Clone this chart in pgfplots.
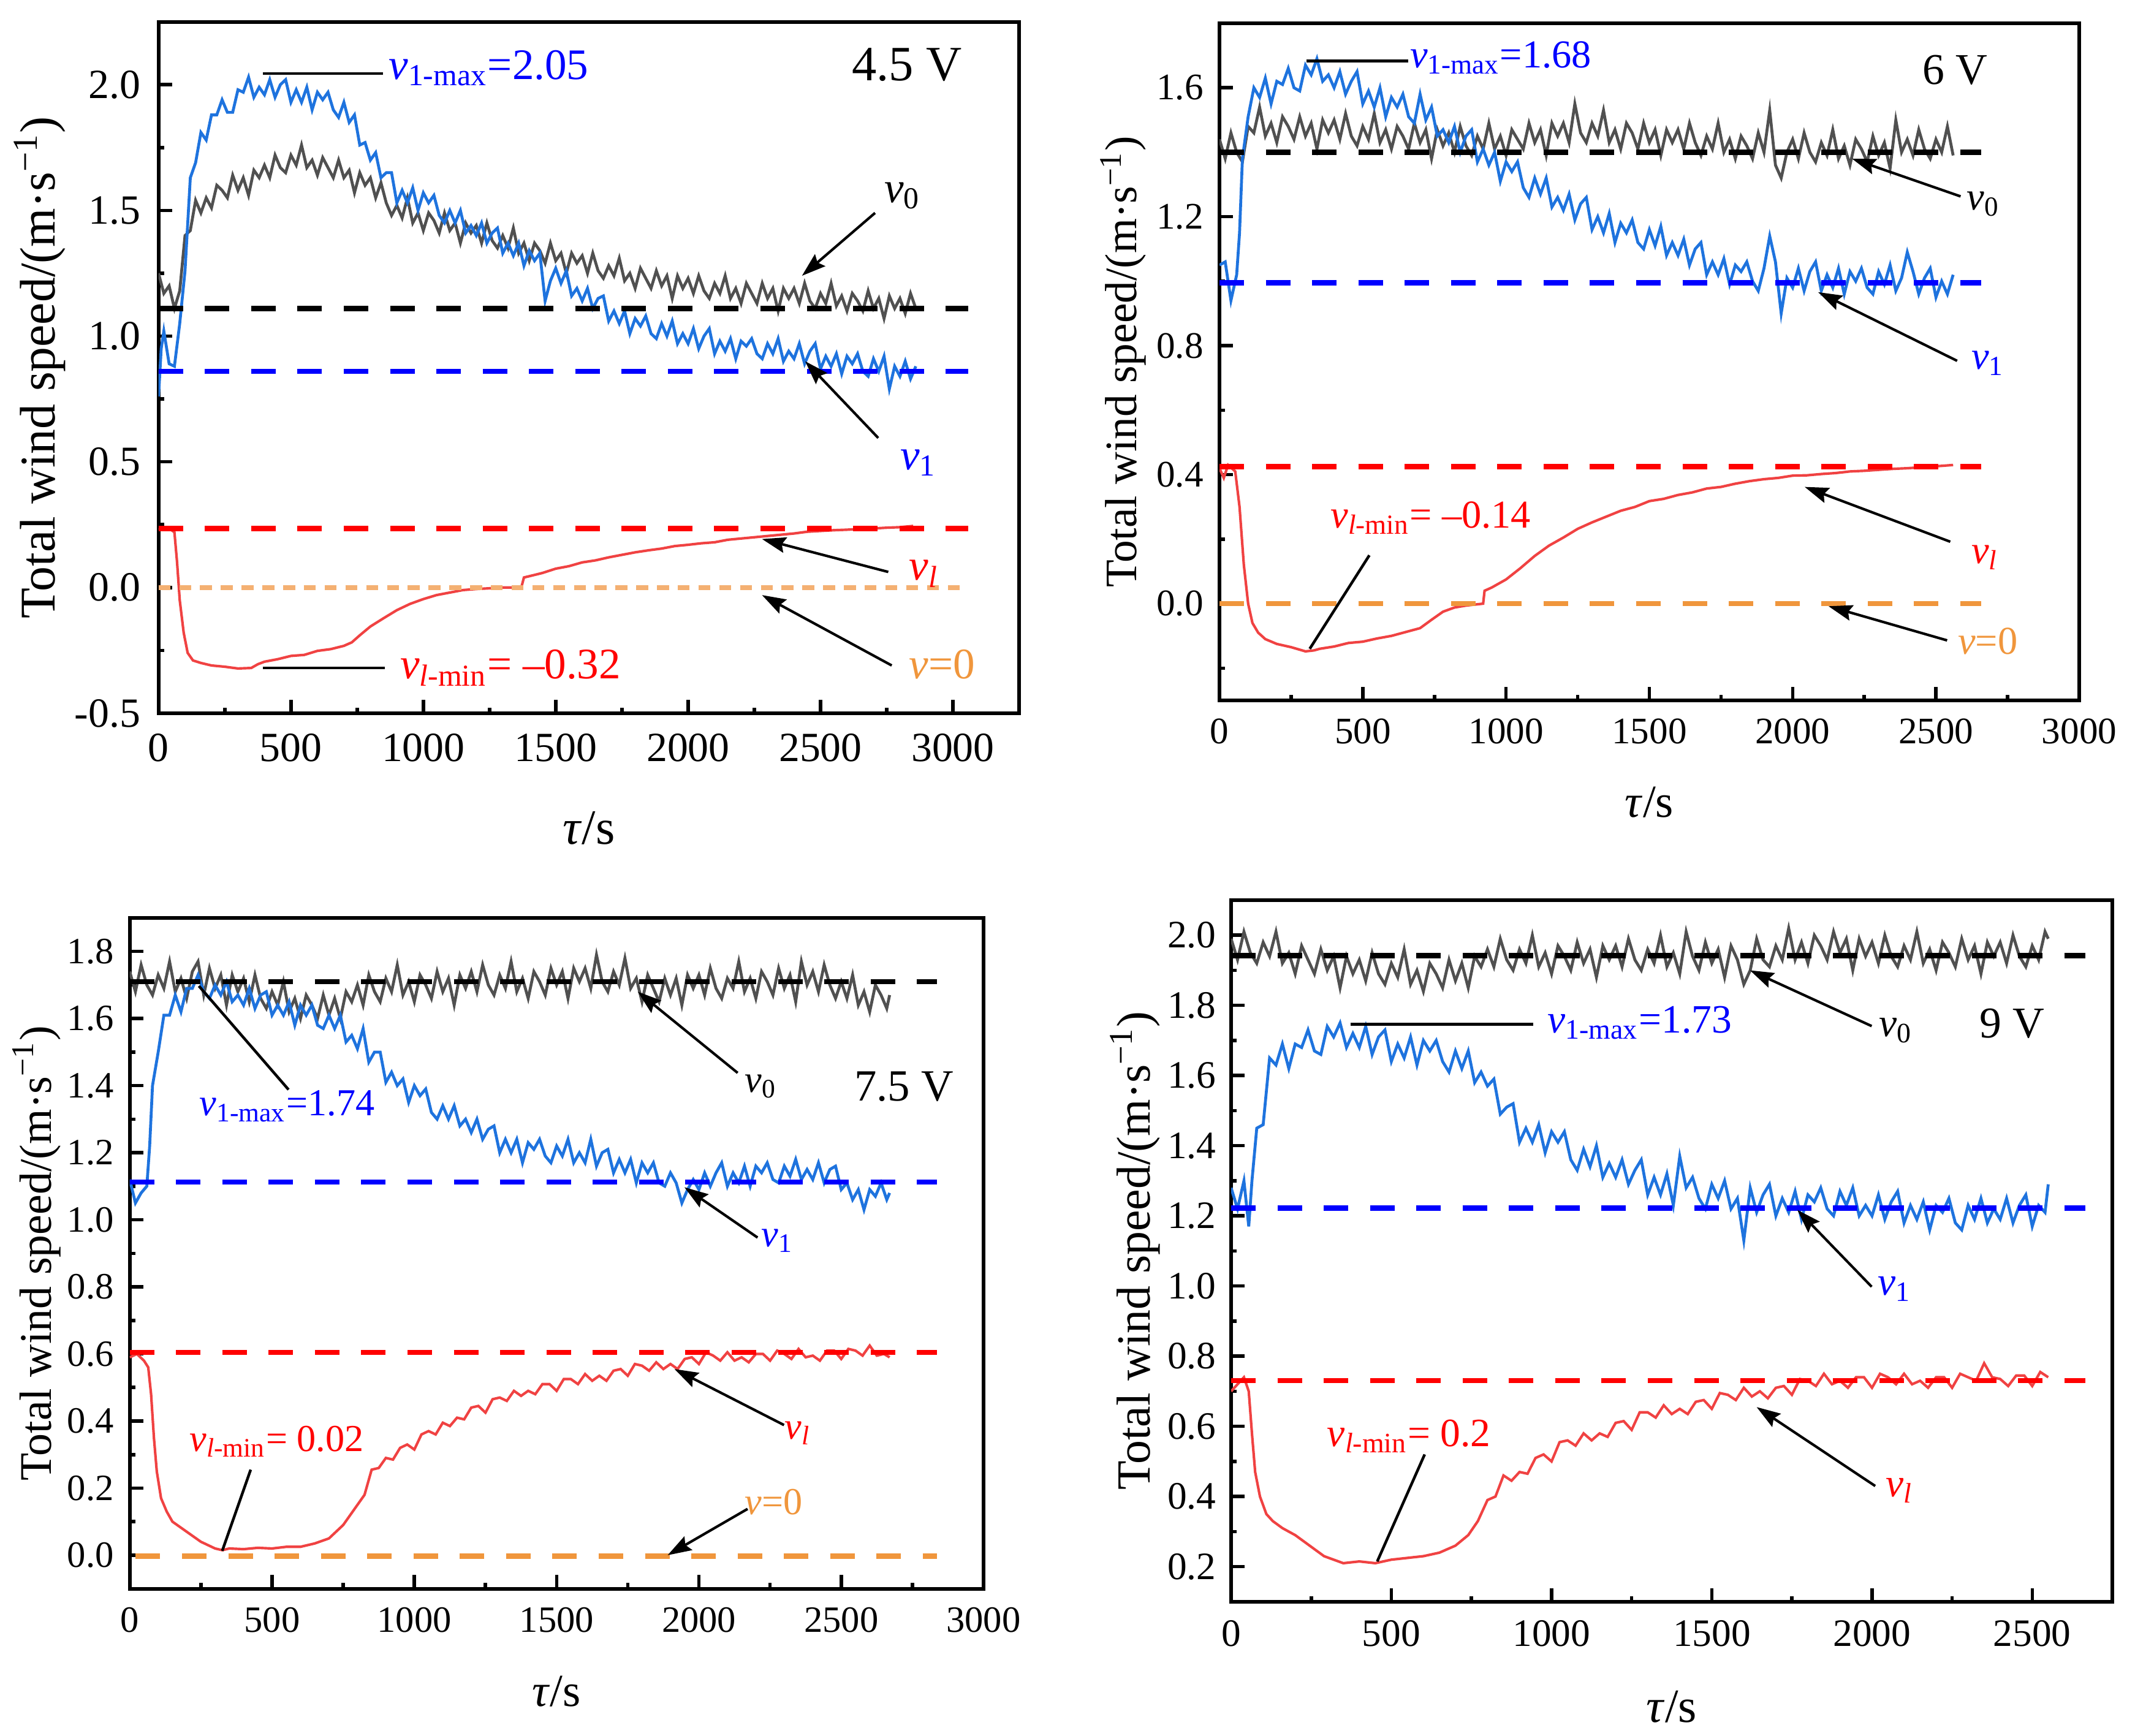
\documentclass[border=0pt]{standalone}
\usepackage{fontspec}
\setmainfont{Liberation Serif}
\usepackage{pgfplots}
\pgfplotsset{compat=1.18}
\usetikzlibrary{arrows.meta}
\definecolor{cgray}{RGB}{80,80,80}
\definecolor{cblue}{RGB}{30,115,222}
\definecolor{cred}{RGB}{240,66,66}
\definecolor{dblue}{RGB}{0,0,255}
\definecolor{dred}{RGB}{255,0,0}
\definecolor{lorange}{RGB}{244,176,114}
\definecolor{corange}{RGB}{240,150,60}
\pgfplotsset{
 base/.style={scale only axis, anchor=south west, clip mode=individual,
  axis line style={line width=1.05pt}, tick align=inside, tick pos=left,
  major tick length=4pt, minor tick length=1.7pt,
  every tick/.style={black, line width=1pt},
  /pgf/number format/assume math mode=true,
  /pgf/number format/1000 sep={},
  yticklabel style={/pgf/number format/fixed,/pgf/number format/fixed zerofill,/pgf/number format/precision=1},
  xlabel={\textit{τ}/s}, ylabel={Total wind speed/(m·s\textsuperscript{−1})}},
 gr/.style={color=cgray, line width=0.85pt, no markers},
 bl/.style={color=cblue, line width=0.85pt, no markers},
 rd/.style={color=cred, line width=0.75pt, no markers},
 dsh/.style={line width=1.5pt, dash pattern=on 7.2pt off 6.4pt, no markers},
 dot/.style={line width=1.4pt, dash pattern=on 3.5pt off 2.6pt, no markers},
}
\tikzset{arr/.style={-{Stealth[length=7pt,width=4.6pt,inset=1pt]}, line width=0.75pt, black},
 ln/.style={line width=0.8pt, black}}
\begin{document}
\begin{tikzpicture}
\useasboundingbox (0,0) rectangle (627.12pt,509.94pt);
% ---------------- Panel 1: 4.5 V
\begin{axis}[base, at={(46.57pt,300.42pt)}, width=252.77pt, height=203.09pt,
 xmin=0, xmax=3250, ymin=-0.5, ymax=2.25,
 xtick={0,500,1000,1500,2000,2500,3000}, minor xtick={250,750,1250,1750,2250,2750},
 ytick={-0.5,0,0.5,1.0,1.5,2.0}, minor ytick={-0.25,0.25,0.75,1.25,1.75},
 tick label style={font=\fontsize{12.2}{13}\selectfont},
 xticklabel shift=2.5pt, yticklabel shift=1.8pt,
 xlabel style={font=\fontsize{14.5}{15}\selectfont, at={(axis description cs:0.5,-0.166)}, anchor=center},
 ylabel style={font=\fontsize{14.7}{15}\selectfont, at={(axis description cs:-0.138,0.5)}, anchor=center}]
\addplot[gr] coordinates {(0,1.25)(20,1.17)(40,1.20)(60,1.11)(80,1.18)(100,1.40)(120,1.42)(140,1.54)(160,1.49)(180,1.55)(200,1.51)(220,1.60)(240,1.58)(260,1.55)(280,1.64)(300,1.58)(320,1.63)(340,1.56)(360,1.66)(380,1.63)(400,1.68)(420,1.63)(440,1.72)(460,1.67)(480,1.65)(500,1.72)(520,1.68)(540,1.76)(560,1.67)(580,1.70)(600,1.64)(620,1.71)(640,1.67)(660,1.63)(680,1.70)(700,1.63)(720,1.66)(740,1.57)(760,1.65)(780,1.60)(800,1.63)(820,1.55)(840,1.61)(860,1.53)(880,1.48)(900,1.52)(920,1.47)(940,1.55)(960,1.45)(980,1.49)(1000,1.42)(1020,1.49)(1040,1.46)(1060,1.41)(1080,1.49)(1100,1.42)(1120,1.45)(1140,1.37)(1160,1.45)(1180,1.41)(1200,1.44)(1220,1.37)(1240,1.45)(1260,1.38)(1280,1.35)(1300,1.40)(1320,1.35)(1340,1.43)(1360,1.33)(1380,1.37)(1400,1.30)(1420,1.37)(1440,1.34)(1460,1.29)(1480,1.37)(1500,1.30)(1520,1.33)(1540,1.25)(1560,1.33)(1580,1.29)(1600,1.32)(1620,1.25)(1640,1.33)(1660,1.26)(1680,1.23)(1700,1.28)(1720,1.24)(1740,1.31)(1760,1.22)(1780,1.25)(1800,1.19)(1820,1.27)(1840,1.23)(1860,1.19)(1880,1.26)(1900,1.20)(1920,1.24)(1940,1.15)(1960,1.24)(1980,1.19)(2000,1.23)(2020,1.17)(2040,1.24)(2060,1.18)(2080,1.15)(2100,1.21)(2120,1.17)(2140,1.24)(2160,1.15)(2180,1.19)(2200,1.13)(2220,1.21)(2240,1.17)(2260,1.13)(2280,1.21)(2300,1.15)(2320,1.19)(2340,1.10)(2360,1.19)(2380,1.15)(2400,1.19)(2420,1.13)(2440,1.21)(2460,1.14)(2480,1.11)(2500,1.17)(2520,1.13)(2540,1.21)(2560,1.12)(2580,1.16)(2600,1.10)(2620,1.17)(2640,1.14)(2660,1.10)(2680,1.18)(2700,1.11)(2720,1.15)(2740,1.07)(2760,1.16)(2780,1.11)(2800,1.15)(2820,1.09)(2840,1.17)(2860,1.11)};
\addplot[bl] coordinates {(0,0.76)(10,0.95)(20,1.02)(40,0.89)(60,0.88)(80,1.05)(100,1.26)(120,1.63)(140,1.69)(160,1.81)(180,1.78)(200,1.88)(220,1.88)(240,1.94)(260,1.89)(280,1.89)(300,1.98)(320,1.97)(340,2.03)(360,1.95)(380,1.99)(400,1.96)(420,2.02)(440,1.95)(460,2.00)(480,2.02)(500,1.93)(520,1.98)(540,1.93)(560,1.99)(580,1.90)(600,1.97)(620,1.94)(640,1.97)(660,1.90)(680,1.87)(700,1.93)(720,1.85)(740,1.88)(760,1.76)(780,1.77)(800,1.70)(820,1.73)(840,1.63)(860,1.65)(880,1.65)(900,1.53)(920,1.58)(940,1.53)(960,1.59)(980,1.50)(1000,1.57)(1020,1.53)(1040,1.56)(1060,1.48)(1080,1.45)(1100,1.50)(1120,1.45)(1140,1.50)(1160,1.41)(1180,1.44)(1200,1.40)(1220,1.45)(1240,1.37)(1260,1.41)(1280,1.43)(1300,1.33)(1320,1.37)(1340,1.32)(1360,1.37)(1380,1.28)(1400,1.34)(1420,1.30)(1440,1.33)(1460,1.14)(1480,1.22)(1500,1.27)(1520,1.21)(1540,1.26)(1560,1.16)(1580,1.19)(1600,1.14)(1620,1.19)(1640,1.11)(1660,1.15)(1680,1.16)(1700,1.06)(1720,1.10)(1740,1.05)(1760,1.10)(1780,1.01)(1800,1.07)(1820,1.04)(1840,1.08)(1860,1.01)(1880,0.99)(1900,1.05)(1920,1.00)(1940,1.06)(1960,0.97)(1980,1.01)(2000,0.97)(2020,1.03)(2040,0.95)(2060,1.00)(2080,1.03)(2100,0.93)(2120,0.98)(2140,0.94)(2160,0.99)(2180,0.91)(2200,0.98)(2220,0.96)(2240,0.99)(2260,0.93)(2280,0.91)(2300,0.97)(2320,0.93)(2340,0.99)(2360,0.90)(2380,0.94)(2400,0.91)(2420,0.97)(2440,0.89)(2460,0.94)(2480,0.97)(2500,0.87)(2520,0.92)(2540,0.88)(2560,0.93)(2580,0.85)(2600,0.92)(2620,0.89)(2640,0.93)(2660,0.86)(2680,0.84)(2700,0.91)(2720,0.86)(2740,0.92)(2760,0.79)(2780,0.88)(2800,0.84)(2820,0.90)(2840,0.83)(2860,0.88)};
\addplot[rd] coordinates {(0,0.235)(20,0.23)(40,0.235)(60,0.22)(70,0.10)(80,-0.05)(95,-0.18)(110,-0.26)(130,-0.29)(160,-0.30)(200,-0.31)(250,-0.315)(300,-0.322)(350,-0.32)(375,-0.305)(400,-0.295)(450,-0.285)(500,-0.272)(550,-0.268)(600,-0.252)(650,-0.245)(700,-0.232)(730,-0.218)(760,-0.19)(800,-0.155)(850,-0.122)(900,-0.09)(950,-0.065)(1000,-0.046)(1050,-0.03)(1100,-0.02)(1150,-0.01)(1200,-0.006)(1250,-0.003)(1300,0.0)(1370,0.0)(1380,0.04)(1400,0.045)(1450,0.058)(1500,0.075)(1550,0.085)(1600,0.10)(1650,0.108)(1700,0.12)(1750,0.13)(1800,0.14)(1850,0.148)(1900,0.155)(1950,0.165)(2000,0.17)(2050,0.176)(2100,0.18)(2150,0.19)(2200,0.195)(2250,0.2)(2300,0.205)(2350,0.21)(2400,0.215)(2450,0.222)(2500,0.225)(2550,0.228)(2600,0.23)(2650,0.233)(2700,0.235)(2750,0.238)(2800,0.24)(2850,0.245)};
\addplot[dsh, black] coordinates {(0,1.11)(3058,1.11)};
\addplot[dsh, dblue] coordinates {(0,0.86)(3058,0.86)};
\addplot[dsh, dred] coordinates {(0,0.235)(3058,0.235)};
\addplot[dot, lorange] coordinates {(0,0)(3058,0)};
\draw[ln] (axis cs:394,2.044) -- (axis cs:847,2.044);
\node[anchor=base west, inner sep=0pt, dblue, font=\fontsize{12.8}{14}\selectfont] at (axis cs:867,2.022) {\textit{v}\textsubscript{1-max}=2.05};
\draw[ln] (axis cs:394,-0.32) -- (axis cs:854,-0.32);
\node[anchor=base west, inner sep=0pt, dred, font=\fontsize{12.8}{14}\selectfont] at (axis cs:910,-0.363) {\textit{v}\textsubscript{\textit{l}-min}= –0.32};
\node[font=\fontsize{14.5}{15}\selectfont] at (axis cs:2826,2.08) {4.5 V};
\draw[arr] (axis cs:2706,1.49) -- (axis cs:2430,1.24);
\node[anchor=base west, inner sep=0pt, font=\fontsize{12.8}{14}\selectfont] at (axis cs:2739,1.532) {\textit{v}\textsubscript{0}};
\draw[arr] (axis cs:2718,0.595) -- (axis cs:2442,0.90);
\node[anchor=base west, inner sep=0pt, dblue, font=\fontsize{12.8}{14}\selectfont] at (axis cs:2799,0.469) {\textit{v}\textsubscript{1}};
\draw[arr] (axis cs:2756,0.062) -- (axis cs:2279,0.193);
\node[anchor=base west, inner sep=0pt, dred, font=\fontsize{12.8}{14}\selectfont] at (axis cs:2832,0.029) {\textit{v}\textsubscript{\textit{l}}};
\draw[arr] (axis cs:2769,-0.31) -- (axis cs:2279,-0.03);
\node[anchor=base west, inner sep=0pt, corange, font=\fontsize{12.8}{14}\selectfont] at (axis cs:2832,-0.363) {\textit{v}=0};
\end{axis}
% ---------------- Panel 2: 6 V
\begin{axis}[base, at={(358.2pt,304.2pt)}, width=252.54pt, height=198.9pt,
 xmin=0, xmax=3000, ymin=-0.3, ymax=1.8,
 xtick={0,500,1000,1500,2000,2500,3000}, minor xtick={250,750,1250,1750,2250,2750},
 ytick={0,0.4,0.8,1.2,1.6}, minor ytick={-0.2,0.2,0.6,1.0,1.4},
 tick label style={font=\fontsize{11}{12}\selectfont},
 xticklabel shift=1.8pt, yticklabel shift=1.2pt,
 xlabel style={font=\fontsize{13.5}{14}\selectfont, at={(axis description cs:0.5,-0.150)}, anchor=center},
 ylabel style={font=\fontsize{13.2}{14}\selectfont, at={(axis description cs:-0.112,0.5)}, anchor=center}]
\addplot[gr] coordinates {(0,1.44)(20,1.38)(40,1.46)(60,1.40)(80,1.37)(100,1.48)(120,1.46)(140,1.54)(160,1.45)(180,1.49)(200,1.43)(220,1.51)(240,1.48)(260,1.44)(280,1.51)(300,1.45)(320,1.49)(340,1.41)(360,1.50)(380,1.46)(400,1.50)(420,1.44)(440,1.52)(460,1.45)(480,1.42)(500,1.48)(520,1.44)(540,1.52)(560,1.43)(580,1.47)(600,1.41)(620,1.48)(640,1.45)(660,1.41)(680,1.49)(700,1.43)(720,1.47)(740,1.38)(760,1.47)(780,1.42)(800,1.46)(820,1.40)(840,1.48)(860,1.42)(880,1.39)(900,1.45)(920,1.41)(940,1.49)(960,1.41)(980,1.45)(1000,1.39)(1020,1.47)(1040,1.44)(1060,1.41)(1080,1.49)(1100,1.43)(1120,1.47)(1140,1.39)(1160,1.49)(1180,1.45)(1200,1.49)(1220,1.43)(1240,1.55)(1260,1.46)(1280,1.43)(1300,1.49)(1320,1.45)(1340,1.53)(1360,1.43)(1380,1.47)(1400,1.41)(1420,1.49)(1440,1.46)(1460,1.41)(1480,1.49)(1500,1.43)(1520,1.47)(1540,1.39)(1560,1.47)(1580,1.43)(1600,1.47)(1620,1.41)(1640,1.49)(1660,1.43)(1680,1.39)(1700,1.45)(1720,1.41)(1740,1.49)(1760,1.40)(1780,1.44)(1800,1.38)(1820,1.45)(1840,1.42)(1860,1.38)(1880,1.46)(1900,1.40)(1920,1.53)(1940,1.36)(1960,1.32)(1980,1.40)(2000,1.44)(2020,1.38)(2040,1.46)(2060,1.40)(2080,1.37)(2100,1.43)(2120,1.39)(2140,1.47)(2160,1.38)(2180,1.42)(2200,1.36)(2220,1.44)(2240,1.41)(2260,1.37)(2280,1.45)(2300,1.39)(2320,1.43)(2340,1.35)(2360,1.50)(2380,1.40)(2400,1.44)(2420,1.39)(2440,1.47)(2460,1.41)(2480,1.38)(2500,1.44)(2520,1.40)(2540,1.48)(2560,1.39)};
\addplot[bl] coordinates {(0,1.05)(20,1.06)(40,0.94)(60,1.02)(70,1.15)(80,1.38)(100,1.51)(120,1.60)(140,1.57)(160,1.63)(180,1.55)(200,1.62)(220,1.61)(240,1.66)(260,1.60)(280,1.59)(300,1.67)(320,1.64)(340,1.69)(360,1.62)(380,1.64)(400,1.60)(420,1.65)(440,1.58)(460,1.62)(480,1.65)(500,1.55)(520,1.59)(540,1.54)(560,1.60)(580,1.51)(600,1.57)(620,1.54)(640,1.58)(660,1.51)(680,1.49)(700,1.58)(720,1.50)(740,1.54)(760,1.45)(780,1.47)(800,1.43)(820,1.48)(840,1.40)(860,1.45)(880,1.47)(900,1.37)(920,1.41)(940,1.36)(960,1.40)(980,1.31)(1000,1.37)(1020,1.34)(1040,1.37)(1060,1.29)(1080,1.26)(1100,1.32)(1120,1.27)(1140,1.32)(1160,1.23)(1180,1.26)(1200,1.22)(1220,1.27)(1240,1.19)(1260,1.24)(1280,1.26)(1300,1.16)(1320,1.20)(1340,1.15)(1360,1.21)(1380,1.12)(1400,1.18)(1420,1.15)(1440,1.19)(1460,1.12)(1480,1.10)(1500,1.16)(1520,1.11)(1540,1.17)(1560,1.08)(1580,1.12)(1600,1.08)(1620,1.13)(1640,1.05)(1660,1.10)(1680,1.12)(1700,1.02)(1720,1.06)(1740,1.02)(1760,1.07)(1780,0.99)(1800,1.05)(1820,1.03)(1840,1.06)(1860,1.00)(1880,0.97)(1900,1.04)(1920,1.14)(1940,1.06)(1960,0.90)(1980,1.01)(2000,0.98)(2020,1.04)(2040,0.97)(2060,1.03)(2080,1.06)(2100,0.97)(2120,1.02)(2140,0.98)(2160,1.04)(2180,0.96)(2200,1.03)(2220,1.00)(2240,1.04)(2260,0.98)(2280,0.96)(2300,1.03)(2320,0.99)(2340,1.05)(2360,0.97)(2380,1.01)(2400,1.09)(2420,1.03)(2440,0.96)(2460,1.01)(2480,1.04)(2500,0.95)(2520,1.00)(2540,0.96)(2560,1.02)};
\addplot[rd] coordinates {(0,0.42)(15,0.39)(30,0.43)(55,0.41)(70,0.30)(85,0.12)(100,0.0)(115,-0.06)(135,-0.09)(160,-0.11)(200,-0.125)(250,-0.135)(300,-0.148)(330,-0.145)(350,-0.14)(400,-0.133)(450,-0.122)(500,-0.118)(550,-0.108)(600,-0.10)(650,-0.088)(700,-0.076)(740,-0.05)(780,-0.025)(820,-0.012)(860,-0.006)(900,-0.002)(920,0.0)(925,0.04)(950,0.05)(1000,0.075)(1050,0.11)(1100,0.148)(1150,0.18)(1200,0.205)(1250,0.232)(1300,0.252)(1350,0.27)(1400,0.288)(1450,0.30)(1500,0.318)(1550,0.325)(1600,0.337)(1650,0.345)(1700,0.357)(1750,0.362)(1800,0.372)(1850,0.38)(1900,0.386)(1950,0.39)(2000,0.397)(2050,0.398)(2100,0.402)(2150,0.405)(2200,0.41)(2250,0.412)(2300,0.415)(2350,0.418)(2400,0.42)(2450,0.423)(2500,0.426)(2560,0.43)};
\addplot[dsh, black] coordinates {(0,1.40)(2657,1.40)};
\addplot[dsh, dblue] coordinates {(0,0.995)(2657,0.995)};
\addplot[dsh, dred] coordinates {(0,0.425)(2657,0.425)};
\addplot[dsh, corange] coordinates {(0,0)(2657,0)};
\draw[ln] (axis cs:303,1.683) -- (axis cs:658,1.683);
\node[anchor=base west, inner sep=0pt, dblue, font=\fontsize{11.6}{13}\selectfont] at (axis cs:663,1.663) {\textit{v}\textsubscript{1-max}=1.68};
\node[anchor=base west, inner sep=0pt, dred, font=\fontsize{11.6}{13}\selectfont] at (axis cs:386,0.235) {\textit{v}\textsubscript{\textit{l}-min}= –0.14};
\draw[ln] (axis cs:523,0.15) -- (axis cs:315,-0.14);
\node[font=\fontsize{12.9}{14}\selectfont] at (axis cs:2567,1.654) {6 V};
\draw[arr] (axis cs:2586,1.263) -- (axis cs:2207,1.38);
\node[anchor=base west, inner sep=0pt, font=\fontsize{11.6}{13}\selectfont] at (axis cs:2605,1.221) {\textit{v}\textsubscript{0}};
\draw[arr] (axis cs:2574,0.753) -- (axis cs:2089,0.966);
\node[anchor=base west, inner sep=0pt, dblue, font=\fontsize{11.6}{13}\selectfont] at (axis cs:2622,0.728) {\textit{v}\textsubscript{1}};
\draw[arr] (axis cs:2550,0.192) -- (axis cs:2042,0.362);
\node[anchor=base west, inner sep=0pt, dred, font=\fontsize{11.6}{13}\selectfont] at (axis cs:2622,0.124) {\textit{v}\textsubscript{\textit{l}}};
\draw[arr] (axis cs:2539,-0.114) -- (axis cs:2125,-0.008);
\node[anchor=base west, inner sep=0pt, corange, font=\fontsize{11.6}{13}\selectfont] at (axis cs:2575,-0.156) {\textit{v}=0};
\end{axis}
% ---------------- Panel 3: 7.5 V
\begin{axis}[base, at={(38.11pt,43.25pt)}, width=250.79pt, height=197.05pt,
 xmin=0, xmax=3000, ymin=-0.1, ymax=1.9,
 xtick={0,500,1000,1500,2000,2500,3000}, minor xtick={250,750,1250,1750,2250,2750},
 ytick={0,0.2,0.4,0.6,0.8,1.0,1.2,1.4,1.6,1.8}, minor ytick={0.1,0.3,0.5,0.7,0.9,1.1,1.3,1.5,1.7},
 tick label style={font=\fontsize{10.9}{12}\selectfont},
 xticklabel shift=2pt, yticklabel shift=1.2pt,
 xlabel style={font=\fontsize{13.5}{14}\selectfont, at={(axis description cs:0.5,-0.153)}, anchor=center},
 ylabel style={font=\fontsize{13.3}{14}\selectfont, at={(axis description cs:-0.109,0.5)}, anchor=center}]
\addplot[gr] coordinates {(0,1.74)(20,1.68)(40,1.76)(60,1.70)(80,1.67)(100,1.73)(120,1.69)(140,1.77)(160,1.68)(180,1.72)(200,1.66)(220,1.74)(240,1.77)(260,1.67)(280,1.75)(300,1.69)(320,1.73)(340,1.64)(360,1.73)(380,1.68)(400,1.72)(420,1.65)(440,1.73)(460,1.66)(480,1.63)(500,1.68)(520,1.64)(540,1.71)(560,1.62)(580,1.66)(600,1.60)(620,1.67)(640,1.64)(660,1.60)(680,1.67)(700,1.61)(720,1.66)(740,1.60)(760,1.68)(780,1.65)(800,1.70)(820,1.64)(840,1.73)(860,1.68)(880,1.65)(900,1.72)(920,1.68)(940,1.76)(960,1.67)(980,1.71)(1000,1.65)(1020,1.73)(1040,1.70)(1060,1.66)(1080,1.74)(1100,1.68)(1120,1.72)(1140,1.64)(1160,1.73)(1180,1.69)(1200,1.74)(1220,1.68)(1240,1.76)(1260,1.70)(1280,1.67)(1300,1.73)(1320,1.69)(1340,1.77)(1360,1.68)(1380,1.72)(1400,1.66)(1420,1.74)(1440,1.71)(1460,1.67)(1480,1.75)(1500,1.70)(1520,1.74)(1540,1.66)(1560,1.75)(1580,1.71)(1600,1.75)(1620,1.69)(1640,1.79)(1660,1.71)(1680,1.68)(1700,1.74)(1720,1.70)(1740,1.78)(1760,1.69)(1780,1.72)(1800,1.65)(1820,1.73)(1840,1.69)(1860,1.65)(1880,1.72)(1900,1.67)(1920,1.72)(1940,1.64)(1960,1.73)(1980,1.69)(2000,1.73)(2020,1.67)(2040,1.75)(2060,1.69)(2080,1.66)(2100,1.72)(2120,1.69)(2140,1.77)(2160,1.68)(2180,1.72)(2200,1.66)(2220,1.74)(2240,1.71)(2260,1.67)(2280,1.75)(2300,1.69)(2320,1.73)(2340,1.65)(2360,1.77)(2380,1.70)(2400,1.74)(2420,1.68)(2440,1.76)(2460,1.70)(2480,1.66)(2500,1.71)(2520,1.66)(2540,1.73)(2560,1.64)(2580,1.68)(2600,1.62)(2620,1.70)(2640,1.67)(2660,1.63)(2670,1.67)};
\addplot[bl] coordinates {(0,1.12)(20,1.05)(40,1.08)(60,1.10)(70,1.22)(80,1.40)(100,1.50)(120,1.61)(140,1.61)(160,1.67)(180,1.62)(200,1.69)(220,1.69)(240,1.73)(260,1.68)(280,1.66)(300,1.70)(320,1.67)(340,1.71)(360,1.65)(380,1.67)(400,1.64)(420,1.69)(440,1.63)(460,1.67)(480,1.68)(500,1.61)(520,1.64)(540,1.61)(560,1.65)(580,1.58)(600,1.64)(620,1.61)(640,1.64)(660,1.58)(680,1.57)(700,1.61)(720,1.57)(740,1.61)(760,1.53)(780,1.55)(800,1.51)(820,1.57)(840,1.47)(860,1.50)(880,1.50)(900,1.41)(920,1.44)(940,1.40)(960,1.42)(980,1.35)(1000,1.40)(1020,1.37)(1040,1.39)(1060,1.32)(1080,1.30)(1100,1.34)(1120,1.30)(1140,1.34)(1160,1.28)(1180,1.30)(1200,1.26)(1220,1.30)(1240,1.24)(1260,1.27)(1280,1.28)(1300,1.20)(1320,1.24)(1340,1.20)(1360,1.24)(1380,1.17)(1400,1.23)(1420,1.21)(1440,1.24)(1460,1.19)(1480,1.17)(1500,1.22)(1520,1.19)(1540,1.24)(1560,1.17)(1580,1.20)(1600,1.17)(1620,1.24)(1640,1.16)(1660,1.20)(1680,1.21)(1700,1.14)(1720,1.18)(1740,1.14)(1760,1.18)(1780,1.11)(1800,1.17)(1820,1.14)(1840,1.17)(1860,1.11)(1880,1.10)(1900,1.14)(1920,1.11)(1940,1.05)(1960,1.09)(1980,1.12)(2000,1.09)(2020,1.14)(2040,1.10)(2060,1.14)(2080,1.17)(2100,1.10)(2120,1.14)(2140,1.11)(2160,1.16)(2180,1.10)(2200,1.16)(2220,1.14)(2240,1.17)(2260,1.12)(2280,1.11)(2300,1.16)(2320,1.13)(2340,1.18)(2360,1.12)(2380,1.15)(2400,1.12)(2420,1.17)(2440,1.11)(2460,1.15)(2480,1.16)(2500,1.09)(2520,1.11)(2540,1.06)(2560,1.09)(2580,1.03)(2600,1.09)(2620,1.07)(2640,1.11)(2660,1.06)(2670,1.08)};
\addplot[rd] coordinates {(0,0.59)(25,0.60)(50,0.58)(65,0.56)(75,0.48)(85,0.35)(95,0.25)(110,0.17)(130,0.13)(150,0.10)(175,0.085)(200,0.07)(225,0.055)(250,0.04)(275,0.03)(300,0.02)(325,0.015)(350,0.02)(400,0.018)(450,0.022)(500,0.02)(550,0.025)(600,0.025)(650,0.035)(700,0.05)(725,0.07)(750,0.09)(775,0.12)(800,0.15)(825,0.18)(850,0.255)(875,0.26)(900,0.29)(925,0.285)(950,0.32)(975,0.33)(1000,0.315)(1025,0.36)(1050,0.37)(1075,0.36)(1100,0.395)(1125,0.385)(1150,0.41)(1175,0.405)(1200,0.44)(1225,0.445)(1250,0.425)(1275,0.465)(1300,0.47)(1325,0.46)(1350,0.49)(1375,0.475)(1400,0.49)(1425,0.48)(1450,0.51)(1475,0.51)(1500,0.49)(1525,0.525)(1550,0.525)(1575,0.51)(1600,0.54)(1625,0.52)(1650,0.535)(1675,0.52)(1700,0.55)(1725,0.555)(1750,0.535)(1775,0.57)(1800,0.565)(1825,0.55)(1850,0.575)(1875,0.555)(1900,0.57)(1925,0.555)(1950,0.585)(1975,0.59)(2000,0.57)(2025,0.605)(2050,0.595)(2075,0.58)(2100,0.605)(2125,0.58)(2150,0.59)(2175,0.575)(2200,0.60)(2225,0.60)(2250,0.58)(2275,0.61)(2300,0.60)(2325,0.585)(2350,0.615)(2375,0.59)(2400,0.595)(2425,0.58)(2450,0.61)(2475,0.61)(2500,0.585)(2525,0.615)(2550,0.61)(2575,0.595)(2600,0.625)(2625,0.595)(2650,0.60)(2670,0.59)};
\addplot[dsh, black] coordinates {(0,1.71)(2836,1.71)};
\addplot[dsh, dblue] coordinates {(0,1.113)(2836,1.113)};
\addplot[dsh, dred] coordinates {(0,0.605)(2836,0.605)};
\addplot[dsh, corange] coordinates {(21,-0.003)(2836,-0.003)};
\draw[ln] (axis cs:558,1.388) -- (axis cs:243,1.697);
\node[anchor=base west, inner sep=0pt, dblue, font=\fontsize{11.2}{12}\selectfont] at (axis cs:243,1.31) {\textit{v}\textsubscript{1-max}=1.74};
\node[anchor=base west, inner sep=0pt, dred, font=\fontsize{11.2}{12}\selectfont] at (axis cs:208,0.31) {\textit{v}\textsubscript{\textit{l}-min}= 0.02};
\draw[ln] (axis cs:425,0.255) -- (axis cs:325,0.013);
\node[font=\fontsize{13.1}{14}\selectfont] at (axis cs:2720,1.397) {7.5 V};
\draw[arr] (axis cs:2136,1.438) -- (axis cs:1785,1.68);
\node[anchor=base west, inner sep=0pt, font=\fontsize{11.2}{12}\selectfont] at (axis cs:2159,1.38) {\textit{v}\textsubscript{0}};
\draw[arr] (axis cs:2206,0.947) -- (axis cs:1949,1.097);
\node[anchor=base west, inner sep=0pt, dblue, font=\fontsize{11.2}{12}\selectfont] at (axis cs:2217,0.92) {\textit{v}\textsubscript{1}};
\draw[arr] (axis cs:2299,0.388) -- (axis cs:1914,0.555);
\node[anchor=base west, inner sep=0pt, dred, font=\fontsize{11.2}{12}\selectfont] at (axis cs:2299,0.347) {\textit{v}\textsubscript{\textit{l}}};
\draw[arr] (axis cs:2171,0.138) -- (axis cs:1890,0.0);
\node[anchor=base west, inner sep=0pt, corange, font=\fontsize{11.2}{12}\selectfont] at (axis cs:2159,0.122) {\textit{v}=0};
\end{axis}
% ---------------- Panel 4: 9 V
\begin{axis}[base, at={(361.62pt,39.42pt)}, width=258.84pt, height=206.1pt,
 xmin=0, xmax=2750, ymin=0.1, ymax=2.1,
 xtick={0,500,1000,1500,2000,2500}, minor xtick={250,750,1250,1750,2250},
 ytick={0.2,0.4,0.6,0.8,1.0,1.2,1.4,1.6,1.8,2.0}, minor ytick={0.3,0.5,0.7,0.9,1.1,1.3,1.5,1.7,1.9},
 tick label style={font=\fontsize{11.4}{12}\selectfont},
 xticklabel shift=2pt, yticklabel shift=0.9pt,
 xlabel style={font=\fontsize{14}{15}\selectfont, at={(axis description cs:0.5,-0.150)}, anchor=center},
 ylabel style={font=\fontsize{14}{15}\selectfont, at={(axis description cs:-0.109,0.5)}, anchor=center}]
\addplot[gr] coordinates {(0,1.99)(20,1.93)(40,2.01)(60,1.95)(80,1.92)(100,1.98)(120,1.94)(140,2.01)(160,1.92)(180,1.95)(200,1.89)(220,1.97)(240,1.93)(260,1.89)(280,1.96)(300,1.90)(320,1.94)(340,1.85)(360,1.94)(380,1.89)(400,1.93)(420,1.87)(440,1.95)(460,1.89)(480,1.86)(500,1.92)(520,1.88)(540,1.96)(560,1.86)(580,1.90)(600,1.84)(620,1.92)(640,1.89)(660,1.85)(680,1.93)(700,1.87)(720,1.92)(740,1.85)(760,1.94)(780,1.91)(800,1.96)(820,1.91)(840,1.99)(860,1.93)(880,1.90)(900,1.96)(920,1.92)(940,2.00)(960,1.91)(980,1.95)(1000,1.89)(1020,1.97)(1040,1.94)(1060,1.90)(1080,1.98)(1100,1.92)(1120,1.96)(1140,1.88)(1160,1.97)(1180,1.93)(1200,1.97)(1220,1.91)(1240,1.99)(1260,1.93)(1280,1.90)(1300,1.96)(1320,1.92)(1340,2.00)(1360,1.91)(1380,1.95)(1400,1.89)(1420,2.01)(1440,1.94)(1460,1.90)(1480,1.98)(1500,1.92)(1520,1.96)(1540,1.88)(1560,1.97)(1580,1.93)(1600,1.86)(1620,1.90)(1640,1.99)(1660,1.93)(1680,1.91)(1700,1.97)(1720,1.93)(1740,2.02)(1760,1.93)(1780,1.98)(1800,1.92)(1820,2.00)(1840,1.97)(1860,1.93)(1880,2.01)(1900,1.95)(1920,1.99)(1940,1.90)(1960,1.99)(1980,1.94)(2000,1.98)(2020,1.92)(2040,2.00)(2060,1.94)(2080,1.91)(2100,1.97)(2120,1.93)(2140,2.01)(2160,1.92)(2180,1.96)(2200,1.90)(2220,1.98)(2240,1.95)(2260,1.91)(2280,1.99)(2300,1.93)(2320,1.97)(2340,1.89)(2360,1.98)(2380,1.94)(2400,1.98)(2420,1.92)(2440,2.00)(2460,1.94)(2480,1.91)(2500,1.97)(2520,1.93)(2540,2.01)(2550,1.99)};
\addplot[bl] coordinates {(0,1.28)(20,1.22)(40,1.30)(55,1.17)(65,1.30)(80,1.45)(100,1.46)(120,1.65)(140,1.63)(160,1.69)(180,1.62)(200,1.69)(220,1.68)(240,1.73)(260,1.67)(280,1.66)(300,1.74)(320,1.71)(340,1.75)(360,1.68)(380,1.72)(400,1.68)(420,1.74)(440,1.66)(460,1.71)(480,1.73)(500,1.64)(520,1.69)(540,1.65)(560,1.71)(580,1.63)(600,1.70)(620,1.67)(640,1.70)(660,1.64)(680,1.61)(700,1.67)(720,1.62)(740,1.67)(760,1.58)(780,1.61)(800,1.57)(820,1.59)(840,1.49)(860,1.51)(880,1.52)(900,1.41)(920,1.45)(940,1.41)(960,1.46)(980,1.38)(1000,1.44)(1020,1.41)(1040,1.44)(1060,1.36)(1080,1.33)(1100,1.39)(1120,1.34)(1140,1.40)(1160,1.31)(1180,1.35)(1200,1.31)(1220,1.36)(1240,1.29)(1260,1.33)(1280,1.36)(1300,1.26)(1320,1.31)(1340,1.26)(1360,1.32)(1380,1.23)(1400,1.37)(1420,1.28)(1440,1.31)(1460,1.25)(1480,1.22)(1500,1.29)(1520,1.25)(1540,1.30)(1560,1.22)(1580,1.25)(1600,1.13)(1620,1.28)(1640,1.21)(1660,1.26)(1680,1.29)(1700,1.20)(1720,1.25)(1740,1.21)(1760,1.27)(1780,1.19)(1800,1.26)(1820,1.24)(1840,1.28)(1860,1.22)(1880,1.20)(1900,1.27)(1920,1.23)(1940,1.28)(1960,1.20)(1980,1.23)(2000,1.20)(2020,1.26)(2040,1.19)(2060,1.24)(2080,1.27)(2100,1.18)(2120,1.23)(2140,1.19)(2160,1.24)(2180,1.16)(2200,1.23)(2220,1.21)(2240,1.25)(2260,1.18)(2280,1.16)(2300,1.23)(2320,1.19)(2340,1.25)(2360,1.18)(2380,1.22)(2400,1.19)(2420,1.25)(2440,1.18)(2460,1.23)(2480,1.26)(2500,1.17)(2520,1.23)(2540,1.21)(2550,1.29)};
\addplot[rd] coordinates {(0,0.70)(20,0.72)(40,0.74)(55,0.70)(65,0.58)(75,0.47)(90,0.40)(110,0.35)(130,0.33)(160,0.31)(200,0.29)(230,0.27)(260,0.25)(290,0.23)(320,0.22)(350,0.21)(400,0.215)(450,0.21)(500,0.22)(550,0.225)(600,0.23)(650,0.24)(700,0.26)(740,0.29)(770,0.33)(800,0.39)(825,0.40)(850,0.46)(875,0.445)(900,0.47)(925,0.465)(950,0.51)(975,0.52)(1000,0.50)(1025,0.555)(1050,0.56)(1075,0.545)(1100,0.58)(1125,0.56)(1150,0.58)(1175,0.57)(1200,0.61)(1225,0.615)(1250,0.59)(1275,0.64)(1300,0.64)(1325,0.625)(1350,0.66)(1375,0.635)(1400,0.65)(1425,0.635)(1450,0.67)(1475,0.675)(1500,0.65)(1525,0.695)(1550,0.69)(1575,0.675)(1600,0.71)(1625,0.685)(1650,0.70)(1675,0.68)(1700,0.71)(1725,0.715)(1750,0.69)(1775,0.735)(1800,0.73)(1825,0.715)(1850,0.75)(1875,0.72)(1900,0.73)(1925,0.71)(1950,0.74)(1975,0.74)(2000,0.71)(2025,0.75)(2050,0.74)(2075,0.72)(2100,0.75)(2125,0.72)(2150,0.73)(2175,0.71)(2200,0.74)(2225,0.74)(2250,0.71)(2275,0.75)(2300,0.74)(2325,0.73)(2350,0.78)(2375,0.74)(2400,0.735)(2425,0.715)(2450,0.745)(2475,0.745)(2500,0.715)(2525,0.755)(2550,0.74)};
\addplot[dsh, black] coordinates {(0,1.942)(2665,1.942)};
\addplot[dsh, dblue] coordinates {(0,1.222)(2665,1.222)};
\addplot[dsh, dred] coordinates {(0,0.73)(2665,0.73)};
\draw[ln] (axis cs:372,1.746) -- (axis cs:942,1.746);
\node[anchor=base west, inner sep=0pt, dblue, font=\fontsize{11.8}{13}\selectfont] at (axis cs:985,1.722) {\textit{v}\textsubscript{1-max}=1.73};
\node[anchor=base west, inner sep=0pt, dred, font=\fontsize{11.8}{13}\selectfont] at (axis cs:298,0.543) {\textit{v}\textsubscript{\textit{l}-min}= 0.2};
\draw[ln] (axis cs:604,0.52) -- (axis cs:456,0.215);
\node[font=\fontsize{12.9}{14}\selectfont] at (axis cs:2437,1.749) {9 V};
\draw[arr] (axis cs:1999,1.741) -- (axis cs:1619,1.90);
\node[anchor=base west, inner sep=0pt, font=\fontsize{11.8}{13}\selectfont] at (axis cs:2020,1.712) {\textit{v}\textsubscript{0}};
\draw[arr] (axis cs:1999,0.998) -- (axis cs:1767,1.217);
\node[anchor=base west, inner sep=0pt, dblue, font=\fontsize{11.8}{13}\selectfont] at (axis cs:2016,0.974) {\textit{v}\textsubscript{1}};
\draw[arr] (axis cs:2010,0.43) -- (axis cs:1640,0.655);
\node[anchor=base west, inner sep=0pt, dred, font=\fontsize{11.8}{13}\selectfont] at (axis cs:2041,0.40) {\textit{v}\textsubscript{\textit{l}}};
\end{axis}
\end{tikzpicture}
\end{document}
